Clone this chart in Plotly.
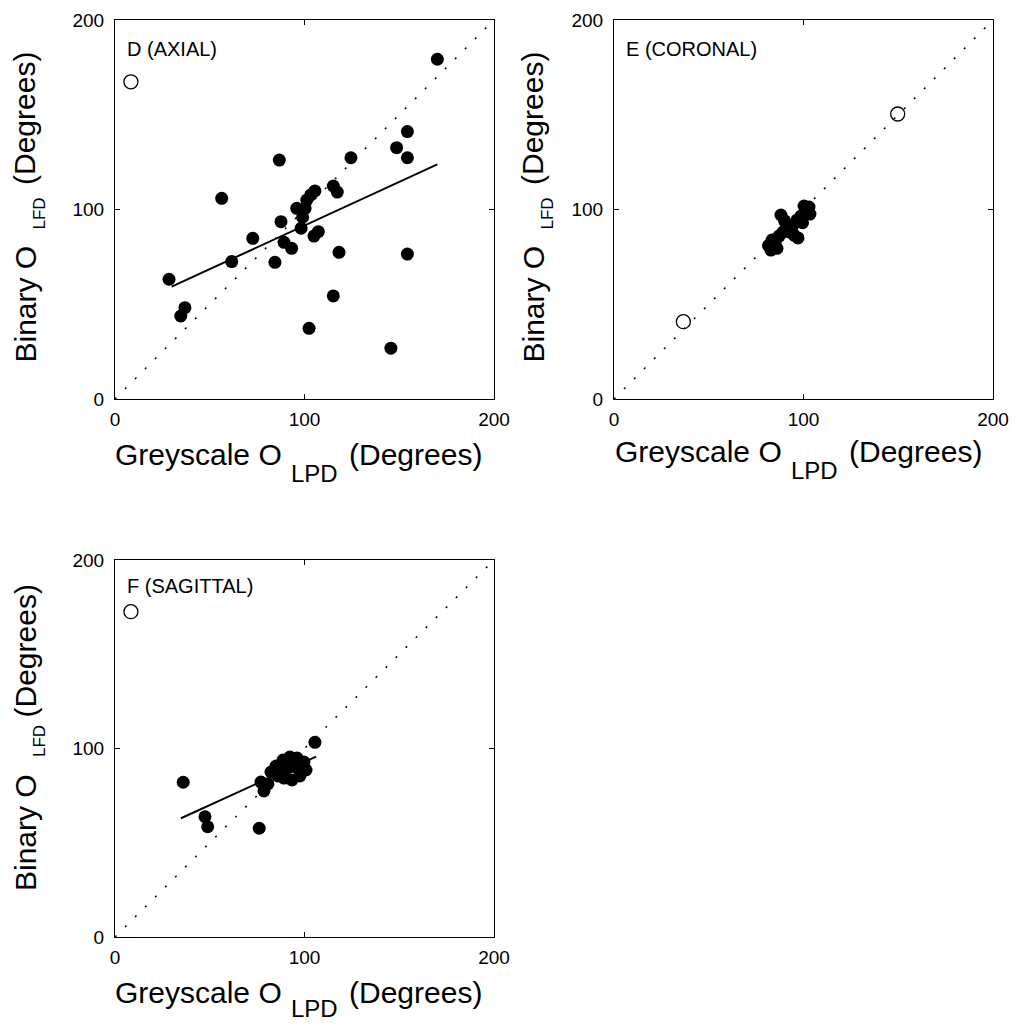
import plotly.graph_objects as go

W, H = 1016, 1025

# ---------------- data ----------------
identity = [0, 200]
tick_vals = [0, 100, 200]
tick_text = ["0", "100", "200"]

# Panel D (AXIAL)
d_x = [170.1, 154.3, 148.6, 154.3, 124.5, 86.7, 56.3, 115.2, 117.3, 105.5, 103.3,
       101.2, 95.9, 100.3, 99.0, 98.2, 87.6, 107.3, 105.0, 72.7, 89.2, 93.2, 118.2,
       154.3, 61.6, 84.4, 28.5, 36.9, 34.7, 115.2, 102.4, 145.6]
d_y = [179.3, 141.1, 132.6, 127.3, 127.3, 126.1, 105.9, 112.4, 109.2, 109.8, 107.7,
       105.0, 100.6, 100.6, 95.9, 90.1, 93.6, 88.3, 86.0, 84.8, 82.7, 79.5, 77.4,
       76.5, 72.5, 72.1, 63.2, 48.2, 43.8, 54.4, 37.3, 26.8]
d_open_x = [8.4]
d_open_y = [167.4]
d_fit_x = [29.9, 170.1]
d_fit_y = [59.3, 123.8]

# Panel E (CORONAL)
e_x = [82.8, 85.0, 83.4, 87.1, 89.2, 91.3, 88.1, 97.1, 94.5, 96.6, 98.7, 101.3,
       102.9, 100.3, 103.4, 81.5, 86.0, 90.0, 93.0, 95.0, 99.5]
e_y = [78.6, 81.8, 83.9, 86.0, 88.1, 90.2, 97.1, 85.0, 91.8, 94.5, 96.6, 99.2,
       101.3, 101.8, 97.6, 81.0, 79.5, 94.0, 88.0, 86.5, 93.0]
e_open_x = [36.6, 149.7]
e_open_y = [40.8, 150.4]

# Panel F (SAGITTAL)
f_x = [36.0, 105.5, 76.1, 47.5, 48.9, 77.0, 78.6, 80.7, 82.3, 85.0, 88.7, 92.3,
       96.0, 99.7, 100.8, 97.6, 93.4, 89.2, 86.0, 91.3, 95.5, 87.1]
f_y = [82.1, 103.3, 57.7, 63.8, 58.5, 82.2, 77.5, 81.2, 87.5, 90.7, 93.9, 95.5,
       95.0, 92.8, 88.6, 85.4, 83.3, 84.3, 85.4, 89.7, 90.2, 89.7]
f_open_x = [8.4]
f_open_y = [172.6]
f_fit_x = [34.8, 106.1]
f_fit_y = [63.0, 95.7]

panel_labels = ["D (AXIAL)", "E (CORONAL)", "F (SAGITTAL)"]
x_title_parts = ["Greyscale O", "LPD", "(Degrees)"]
y_title_parts = ["Binary O", "LFD", "(Degrees)"]

# ---------------- layout helpers ----------------
def px(x):
    return x / W

def py(y):
    return 1 - y / H

FONT = "Liberation Sans"
TITLE_SIZE = 30
XSUB_SIZE = 24
YSUB_SIZE = 17
TICK_SIZE = 19
LABEL_SIZE = 20

boxes = {
    "1": dict(x0=115, x1=494, y0=20, y1=399),   # D
    "2": dict(x0=614, x1=993, y0=20, y1=399),   # E
    "3": dict(x0=115, x1=494, y0=560, y1=937),  # F
}

fig = go.Figure()

def add_panel(idx, fx, fy, ox, oy, fitx=None, fity=None):
    xa = "x" if idx == "1" else "x" + idx
    ya = "y" if idx == "1" else "y" + idx
    fig.add_trace(go.Scatter(x=identity, y=identity, mode="lines", xaxis=xa, yaxis=ya,
                             line=dict(color="black", width=1.5, dash="2px,12.14px"),
                             hoverinfo="skip"))
    fig.add_trace(go.Scatter(x=fx, y=fy, mode="markers", xaxis=xa, yaxis=ya,
                             marker=dict(symbol="circle", size=13, color="black",
                                         line=dict(width=0))))
    fig.add_trace(go.Scatter(x=ox, y=oy, mode="markers", xaxis=xa, yaxis=ya,
                             marker=dict(symbol="circle-open", size=14, color="black",
                                         line=dict(width=1.3, color="black"))))
    if fitx is not None:
        fig.add_trace(go.Scatter(x=fitx, y=fity, mode="lines", xaxis=xa, yaxis=ya,
                                 line=dict(color="black", width=2)))

add_panel("1", d_x, d_y, d_open_x, d_open_y, d_fit_x, d_fit_y)
add_panel("2", e_x, e_y, e_open_x, e_open_y)
add_panel("3", f_x, f_y, f_open_x, f_open_y, f_fit_x, f_fit_y)

axis_common = dict(range=[0, 200], tickvals=tick_vals, ticktext=tick_text,
                   ticks="inside", ticklen=5, tickwidth=1, tickcolor="black",
                   mirror="allticks", showline=True, linecolor="black", linewidth=1,
                   showgrid=False, zeroline=False, fixedrange=True, automargin=False,
                   tickfont=dict(family=FONT, size=TICK_SIZE, color="black"))

layout = dict(width=W, height=H, margin=dict(l=0, r=0, t=0, b=0, autoexpand=False),
              paper_bgcolor="white", plot_bgcolor="white", showlegend=False)

for idx, b in boxes.items():
    xname = "xaxis" if idx == "1" else "xaxis" + idx
    yname = "yaxis" if idx == "1" else "yaxis" + idx
    xa = "x" if idx == "1" else "x" + idx
    ya = "y" if idx == "1" else "y" + idx
    layout[xname] = dict(axis_common, domain=[px(b["x0"]), px(b["x1"])], anchor=ya,
                         ticklabelstandoff=3)
    layout[yname] = dict(axis_common, domain=[py(b["y1"]), py(b["y0"])], anchor=xa,
                         ticklabelstandoff=6)

fig.update_layout(**layout)

annotations = []

def ann(text, x, y, size, angle=0):
    annotations.append(dict(text=text, x=px(x), y=py(y), xref="paper", yref="paper",
                            xanchor="center", yanchor="middle", showarrow=False,
                            textangle=angle, borderpad=0,
                            font=dict(family=FONT, size=size, color="black")))

def ann_left(text, x, y, size):
    annotations.append(dict(text=text, x=px(x), y=py(y), xref="paper", yref="paper",
                            xanchor="left", yanchor="middle", showarrow=False,
                            font=dict(family=FONT, size=size, color="black")))

# panel labels
ann_left(panel_labels[0], 125, 48.5, LABEL_SIZE)
ann_left(panel_labels[1], 624, 48.5, LABEL_SIZE)
ann_left(panel_labels[2], 125, 586, LABEL_SIZE)

# x titles (D, E, F): (dx, main y, sub y)
for dx, ym, ys in [(0, 455, 474), (500, 452, 471), (0, 992, 1008)]:
    ann(x_title_parts[0], 198.5 + dx, ym, TITLE_SIZE)
    ann(x_title_parts[1], 314.5 + dx, ys, XSUB_SIZE)
    ann(x_title_parts[2], 415 + dx, ym, TITLE_SIZE)

# y titles (D, E, F)
for dx, yb, ys, yd in [(0, 304.5, 214, 119), (508, 304.5, 214, 119), (0, 833, 741.5, 651.5)]:
    ann(y_title_parts[0], 25 + dx, yb, TITLE_SIZE, -90)
    ann(y_title_parts[1], 39.5 + dx, ys, YSUB_SIZE, -90)
    ann(y_title_parts[2], 25 + dx, yd, TITLE_SIZE, -90)

fig.update_layout(annotations=annotations)

fig.write_html("out.html")
